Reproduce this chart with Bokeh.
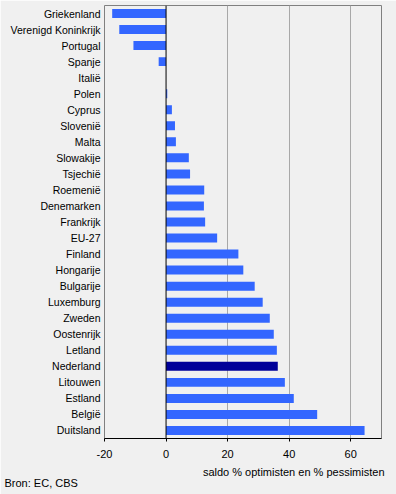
from bokeh.plotting import figure
from bokeh.models import ColumnDataSource, FixedTicker, Span, Title
from bokeh.embed import file_html
from bokeh.resources import INLINE

countries = ["Griekenland", "Verenigd Koninkrijk", "Portugal", "Spanje", "Italië", "Polen",
             "Cyprus", "Slovenië", "Malta", "Slowakije", "Tsjechië", "Roemenië", "Denemarken",
             "Frankrijk", "EU-27", "Finland", "Hongarije", "Bulgarije", "Luxemburg", "Zweden",
             "Oostenrijk", "Letland", "Nederland", "Litouwen", "Estland", "België", "Duitsland"]
saldo = [-17.5, -15.2, -10.6, -2.4, 0.0, 0.4,
         1.9, 2.9, 3.2, 7.4, 7.8, 12.4, 12.3,
         12.7, 16.6, 23.5, 25.1, 28.8, 31.4, 33.7,
         35.0, 36.0, 36.3, 38.6, 41.5, 49.1, 64.5]
x_ticks = [-20, 0, 20, 40, 60]
highlight = "Nederland"
x_title = "saldo % optimisten en % pessimisten"
source_note = "Bron: EC, CBS"

colors = ["#000099" if c == highlight else "#3366ff" for c in countries]
src = ColumnDataSource(dict(country=countries, saldo=saldo, color=colors))

FONT = "Liberation Sans"
BG = "#f0f0f0"

p = figure(width=396, height=494, y_range=list(reversed(countries)), x_range=(-20, 70),
           output_backend="svg", toolbar_location=None,
           min_border_left=104, min_border_right=15, min_border_top=5, min_border_bottom=56)
p.background_fill_color = BG
p.border_fill_color = BG
p.outline_line_color = "#808080"

p.hbar(y="country", right="saldo", left=0, height=0.56, color="color", line_color=None, source=src)
p.add_layout(Span(location=0, dimension="height", line_color="black", line_width=1))

p.xaxis.ticker = FixedTicker(ticks=x_ticks)
p.xaxis.major_label_overrides = {t: str(t) for t in x_ticks}
p.xgrid.ticker = FixedTicker(ticks=[t for t in x_ticks if t > 0])
p.xgrid.grid_line_color = "#a8a8a8"
p.ygrid.grid_line_color = None
p.xaxis.axis_line_color = "black"
p.xaxis.major_tick_line_color = "black"
p.xaxis.major_tick_in = 0
p.xaxis.major_tick_out = 3
p.xaxis.minor_tick_line_color = None
p.xaxis.major_label_standoff = 8
p.xaxis.major_label_text_font = FONT
p.xaxis.major_label_text_font_size = "11px"
p.xaxis.major_label_text_color = "black"

p.yaxis.axis_line_color = None
p.yaxis.major_tick_line_color = None
p.yaxis.minor_tick_line_color = None
p.yaxis.major_tick_out = 0
p.yaxis.major_tick_in = 0
p.yaxis.major_label_standoff = 4
p.yaxis.major_label_text_font = FONT
p.yaxis.major_label_text_font_size = "10.5px"
p.yaxis.major_label_text_color = "black"

t1 = Title(text=x_title, align="right", text_font=FONT, text_font_size="11px",
           text_font_style="normal", text_color="black", standoff=7, offset=-3)
t2 = Title(text=source_note, align="left", text_font=FONT, text_font_size="11px",
           text_font_style="normal", text_color="black", standoff=-14, offset=-100)
p.add_layout(t1, "below")
p.add_layout(t2, "below")

open("out.html", "w").write(file_html(p, INLINE))
